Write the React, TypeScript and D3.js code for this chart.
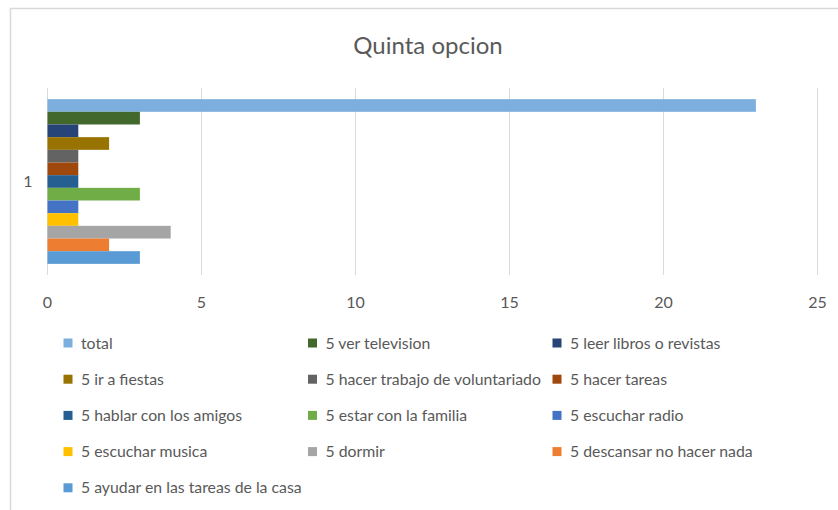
import React from "react";
import * as d3 from "d3";

const categories = ["1"];
const seriesNames = [
  "total",
  "5 ver television",
  "5 leer libros o revistas",
  "5 ir a fiestas",
  "5 hacer trabajo de voluntariado",
  "5 hacer tareas",
  "5 hablar con los amigos",
  "5 estar con la familia",
  "5 escuchar radio",
  "5 escuchar musica",
  "5 dormir",
  "5 descansar no hacer nada",
  "5 ayudar en las tareas de la casa",
];
const seriesValues = [23, 3, 1, 2, 1, 1, 1, 3, 1, 1, 4, 2, 3];
const seriesColors = [
  "#7cafdd",
  "#43682b",
  "#264478",
  "#997300",
  "#636363",
  "#9e480e",
  "#255e91",
  "#70ad47",
  "#4472c4",
  "#ffc000",
  "#a5a5a5",
  "#ed7d31",
  "#5b9bd5",
];
const xTicks = [0, 5, 10, 15, 20, 25];
const title = "Quinta opcion";

const W = 838;
const H = 510;
const FONT = "Lato, 'Open Sans', sans-serif";
const TEXT = "#595959";
const GRID = "#d9d9d9";

export default function App() {
  const x = d3.scaleLinear().domain([0, 25]).range([47.5, 817.5]);
  const yCat = d3.scaleBand().domain(categories).range([88, 275]).paddingOuter(0.0677).paddingInner(0);
  const ySer = d3
    .scaleBand()
    .domain(seriesNames)
    .range([0, yCat.bandwidth()])
    .padding(0);

  const legendCols = [68, 312.5, 557];
  const legendY0 = 343;
  const legendStep = 36.2;

  return (
    <div style={{ position: "absolute", left: 0, top: 0 }}>
      <svg width={W} height={H} style={{ display: "block", background: "#fff" }}>
        <rect x={10.5} y={8.5} width={W + 10} height={H + 10} fill="#fff" stroke={GRID} strokeWidth={1.5} />
        <text x={428} y={54} textAnchor="middle" fontFamily={FONT} fontSize={24} fill={TEXT}>
          {title}
        </text>
        {xTicks.map((t) => (
          <g key={t}>
            <line x1={x(t)} x2={x(t)} y1={88} y2={275} stroke={GRID} strokeWidth={1} />
            <text x={x(t)} y={308} textAnchor="middle" fontFamily={FONT} fontSize={16} fill={TEXT}>
              {t}
            </text>
          </g>
        ))}
        {categories.map((c) => (
          <g key={c}>
            <text x={28} y={(yCat(c) as number) + yCat.bandwidth() / 2 + 5.5} textAnchor="middle" fontFamily={FONT} fontSize={16} fill={TEXT}>
              {c}
            </text>
            {seriesNames.map((s, i) => (
              <rect
                key={s}
                x={x(0)}
                y={(yCat(c) as number) + (ySer(s) as number)}
                width={x(seriesValues[i]) - x(0)}
                height={ySer.bandwidth()}
                fill={seriesColors[i]}
              />
            ))}
          </g>
        ))}
        {seriesNames.map((s, i) => {
          const col = i % 3;
          const row = Math.floor(i / 3);
          const lx = legendCols[col];
          const ly = legendY0 + row * legendStep;
          return (
            <g key={s}>
              <rect x={lx - 4.5} y={ly - 4.5} width={9} height={9} fill={seriesColors[i]} />
              <text x={lx + 13} y={ly + 5.5} fontFamily={FONT} fontSize={15.8} fill={TEXT}>
                {s}
              </text>
            </g>
          );
        })}
      </svg>
    </div>
  );
}
